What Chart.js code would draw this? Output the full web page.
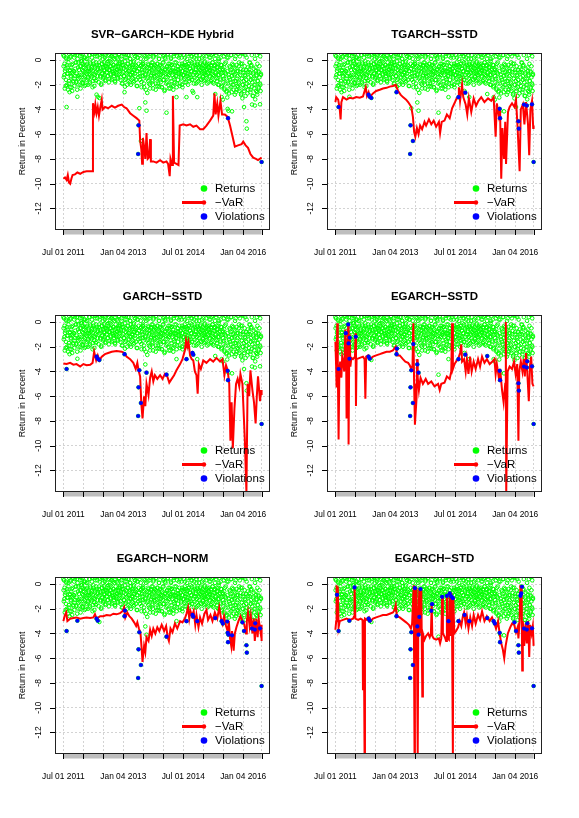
<!DOCTYPE html>
<html>
<head>
<meta charset="utf-8">
<script src="https://cdn.jsdelivr.net/npm/chart.js"></script>
<style>
  html, body { margin: 0; padding: 0; background: #fff; }
  #wrap { position: relative; width: 579px; height: 818px; }
  #wrap canvas { position: absolute; left: 0; top: 0; }
</style>
</head>
<body>
<div id="wrap"></div>
<script>
// daily returns (%), one value every 0.01 year from Jul 2011
const T0 = 2011.5;
const STEP = 0.01;
const returns = [
  .4,-1.4,.9,-.3,-.87,1.2,-2.1,.2,-3.8,-1.1,
  -.6,1.5,-2.4,.1,-1.7,.7,-.9,-2.2,.3,-1.3,
  1.1,-.4,-2.5,-1.0,.5,-1.8,-.9,.2,-1.5,.8,
  -.7,1.3,-.19,-1.73,.4,-2.97,-1.27,-.2,-2.0,.6,
  -1.2,-.5,1.0,-2.3,-.1,-1.6,.3,-.8,-.27,-1.9,
  .7,-1.19,-.6,-2.1,.2,-1.0,1.4,-.4,-1.6,-.9,
  .1,-1.4,-2.0,.8,-.7,-1.1,.4,-1.8,-.3,1.2,
  -1.3,-.6,.5,-2.2,-.9,-.1,.9,-1.5,-.5,-1.2,
  .3,-1.7,-.2,-2.8,1.1,-.8,-2.97,.6,-1.0,-.4,
  -3.07,.2,-1.3,-.7,1.0,-1.9,-.3,.5,-1.1,-.6,
  .8,-1.4,-.2,-.9,.4,-1.6,1.3,-.5,-1.0,.1,
  -.7,-1.3,.6,-.3,-1.8,.9,-.8,-.1,-1.2,.3,
  -.5,1.1,-1.5,-.9,.2,-.4,-1.1,.7,-.6,-1.7,
  .4,-.2,-1.0,1.4,-.8,-1.4,.1,-.5,-1.2,.5,
  -.9,-.3,1.0,-1.6,-.7,.3,-1.1,-.2,-1.9,.8,
  -.4,-1.3,.6,-2.6,-2.15,.2,-.8,-1.5,1.2,-.6,
  -1.0,.4,-.3,-1.7,.9,-.9,-1.2,.1,-.5,-2.0,
  .7,-1.4,-.6,1.3,-1.0,-.2,-1.8,.5,-.8,-1.1,
  .3,-.4,-1.6,1.0,-.9,-2.1,.2,-7.6,-5.28,-.7,
  -3.9,.6,-1.3,-.5,-6.55,-1.78,1.1,-1.0,-.3,-.33,
  -1.5,.4,-2.2,-.8,1.2,-3.43,-1.1,.1,-4.1,-.6,
  -2.66,.8,-1.4,-.41,-1.9,.3,-.9,-2.3,1.0,-.5,
  -1.2,-.2,.6,-1.7,-2.0,.2,-.7,-1.3,1.4,-.4,
  -1.0,-2.4,.5,-.6,-1.5,.9,-.3,-1.9,-1.1,.1,
  -2.17,-.8,-1.63,.7,-1.2,-.5,-2.2,1.1,-.9,-.2,
  -1.6,.4,-1.0,-2.5,.2,-.7,-1.4,1.3,-4.26,-.6,
  -1.8,.5,-1.1,-.3,-2.3,.9,-.8,-1.03,-1.5,.1,
  -.4,-2.0,1.0,-1.2,-.6,-2.4,.3,-.9,-1.6,-.95,
  .6,-1.3,-.2,-3.0,-1.9,1.2,-.76,-.5,-1.1,.2,
  -1.0,-2.1,.4,-.7,-1.14,-1.5,1.1,-.3,-2.2,-.9,
  .7,-1.2,-.4,-1.8,.2,-.8,-1.4,1.0,-3.0,-.6,
  -1.1,.5,-2.0,-.3,-1.5,.9,-.7,-1.2,-.1,1.3,
  -.9,-1.6,.3,-2.5,-.5,-2.64,1.1,-1.0,-.2,-1.4,
  .6,-.8,-1.9,.1,-1.2,-3.0,-.4,1.2,-1.7,-.6,
  -1.0,.4,-.3,-1.5,1.0,-.9,-2.0,.2,-.7,-1.3,
  .8,-.5,-1.1,-.2,1.4,-1.6,-.8,.3,-1.2,-.4,
  -1.9,.6,-.6,-1.0,1.1,-.3,-1.4,-.9,.2,-1.7,
  -.5,1.3,-1.1,-.2,-1.8,.5,-.7,-1.3,.9,-.4,
  -2.75,-1.0,.4,-1.5,-.6,1.2,-.9,-2.0,-.3,.1,
  -1.2,-.7,1.0,-1.6,-.4,-2.2,-3.0,.6,-1.0,-3.2,
  -.8,1.3,-1.5,-2.4,-.3,.5,-1.9,-1.1,-2.6,.2,
  -3.03,-3.95,-4.7,-4.1,1.1,-1.4,-2.3,-.6,-1.8,.4,
  -1.0,-2.6,-4.15,.8,-1.5,-.4,-2.0,1.4,-1.2,-2.8,
  -.7,.3,-1.7,-2.4,-.9,1.0,-1.3,-2.2,.5,-.5,
  -1.9,-2.5,1.2,-1.0,-.3,-2.7,-1.5,.6,-3.1,-2.0,
  -.8,1.1,-3.8,-2.3,-1.2,.4,-2.9,-1.6,-4.95,-5.55,
  .9,-1.0,-2.4,-.95,-1.8,-.76,1.3,-.22,-2.6,-1.3,
  -.5,-2.2,-3.6,.7,-1.5,-2.9,-1.0,1.0,-2.0,-3.68,
  -3.18,-.6,-2.5,-1.2,.4,-2.8,-1.7,1.2,-.9,-2.3,
  -1.4,.6,-3.58,-2.0,-1.1,1.0,-8.25
];
// the trading days in between, offset by half a step
const returnsMid = [
  -.5,.3,-1.2,-2.3,.8,-.7,-1.6,.1,-2.0,-.4,
  1.0,-1.1,-.2,-1.9,.5,-2.6,-.8,.2,-1.4,-.6,
  -2.2,.7,-1.0,-.3,-1.7,1.2,-.9,-2.1,.4,-1.3,
  -.2,-1.8,.6,-1.1,-2.4,.1,-.6,-1.5,.9,-.8,
  -1.4,.3,-2.0,-.5,1.1,-1.2,-.1,-1.8,.5,-.9,
  -1.6,.2,-.4,-1.3,.8,-2.0,-.7,.1,-1.1,-.3,
  1.3,-1.5,-.6,-.9,.4,-1.9,-.2,-1.2,.7,-.8,
  -1.4,.2,-.5,-1.7,1.0,-.3,-1.1,-2.1,.5,-.6,
  -1.0,.9,-1.6,-.4,.3,-1.3,-.7,1.2,-1.8,-.2,
  -.9,.4,-1.4,-.6,-2.0,.6,-.3,-1.1,.1,-1.5,
  .5,-.8,-1.2,.2,-.5,-1.7,.9,-.3,-1.0,-.6,
  1.1,-1.3,-.1,-.8,.4,-1.5,-.5,.7,-1.1,-.2,
  -1.6,.3,-.7,-1.0,1.2,-.4,-1.3,.1,-.9,-1.8,
  .6,-.5,-1.2,.2,-.8,1.0,-1.5,-.3,-.7,.4,
  -1.1,-.2,.8,-1.4,-.6,.1,-1.9,-.4,1.3,-1.0,
  -.7,.5,-1.3,-.1,-1.6,.9,-.5,-1.1,.2,-2.0,
  -.3,1.1,-.9,-1.4,.4,-.6,-1.8,.1,-.2,-1.2,
  .7,-1.0,-.4,-1.5,1.0,-.8,-.1,-1.7,.3,-.6,
  -1.3,.6,-.5,-2.1,.2,-.9,1.2,-1.4,-.3,-.7,
  .4,-1.6,-1.1,.1,-.4,-2.2,.8,-.8,-1.3,-.2,
  1.0,-1.9,-.6,.3,-1.2,-.5,-2.4,.6,-.9,-1.5,
  .2,-.3,-1.7,1.1,-1.0,-.7,-2.0,.5,-1.3,-.4,
  -.8,.9,-1.6,-.2,-2.3,.3,-1.1,-.6,1.2,-1.4,
  -.5,-1.9,.4,-1.0,-.3,-2.1,.8,-.7,-1.5,.1,
  -1.2,-.4,.6,-1.8,-.9,1.0,-2.2,-.6,-1.3,.3,
  -.2,-1.6,.7,-2.4,-.8,.1,-1.1,-1.9,1.1,-.5,
  -1.4,.4,-2.0,-.7,-1.2,.9,-.3,-2.3,-.9,.2,
  -1.7,-.4,1.2,-1.0,-2.1,-.6,.5,-1.4,-.2,-1.8,
  .8,-.9,-1.3,-2.2,.3,-.5,-1.6,1.0,-.8,-1.1,
  -.3,-1.9,.6,-.7,-1.4,.2,-2.0,-.5,1.1,-1.2,
  -.6,.4,-1.5,-.2,-1.0,.9,-1.8,-.4,-.8,.1,
  -1.3,-.5,1.2,-1.1,-.3,-1.7,.5,-.7,-1.4,.3,
  -.9,-.2,-1.6,.8,-.6,-1.2,-1.9,.2,-.4,1.0,
  -1.0,-.7,.4,-1.5,-.3,-1.8,.6,-1.1,-.5,.1,
  -1.3,.9,-.8,-.2,-1.6,-.6,1.1,-1.0,-.4,-1.4,
  .3,-.9,-1.7,-.1,.7,-1.2,-.5,-1.5,1.2,-.7,
  -.3,-1.1,.5,-1.8,-.6,.2,-1.3,-.8,1.0,-.4,
  -1.6,.4,-.9,-.2,-1.2,.8,-1.9,-.5,-.7,.1,
  -1.4,.6,-1.0,-.3,-1.7,1.1,-.6,-1.2,-.1,-2.0,
  .5,-.8,-1.5,.2,-1.1,-.4,-2.1,.9,-.7,-1.3,
  -1.8,.3,-.6,-2.3,-1.0,1.0,-.2,-1.5,-2.5,.6,
  -.9,-1.9,.2,-1.2,-2.7,-.5,1.3,-1.6,-.8,-2.2,
  .4,-1.3,-.3,-2.0,-1.0,.8,-2.4,-.6,-1.7,.1,
  -1.1,-2.6,.6,-.4,-1.5,-2.1,1.1,-.9,-1.8,-.2,
  -2.3,.3,-1.2,-.7,-2.8,.9,-1.5,-.3,-2.0,-1.0,
  .5,-1.7,-2.5,-.5,1.2,-1.3,-2.2,-.8,.2,-1.9,
  -2.7,-.6,.7,-1.4,-2.1,-.2,-1.0,1.0,-2.4,-1.6,
  -.4,.4,-1.8,-2.9,-1.1,.8,-.7,-2.3,-1.5,.1,
  -2.0,-.9,1.1,-1.3,-2.6,-.3,-1.7,.6,-2.2,-1.0,
  -.5,-1.9,.3,-2.5,-1.2,.9
];

const xTicks = [2011.5, 2012.0, 2012.5, 2013.0, 2013.5, 2014.0, 2014.5, 2015.0, 2015.5, 2016.0, 2016.46];
const xTickLabels = ['Jul 01 2011', '', '', 'Jan 04 2013', '', '', 'Jul 01 2014', '', '', 'Jan 04 2016', ''];
const yTicks = [0, -2, -4, -6, -8, -10, -12];

const titles = ['SVR−GARCH−KDE Hybrid', 'TGARCH−SSTD', 'GARCH−SSTD', 'EGARCH−SSTD', 'EGARCH−NORM', 'EGARCH−STD'];

// -VaR series, [date, value]
const varSVR = [[2011.50,-9.6],[2011.54,-9.5],[2011.58,-9.7],[2011.61,-9.3],[2011.64,-9.9],[2011.67,-10.0],[2011.70,-9.6],[2011.73,-9.3],[2011.79,-9.25],[2011.85,-9.1],[2011.92,-9.2],[2012.00,-9.05],[2012.08,-9.0],[2012.17,-9.0],[2012.23,-9.0],[2012.24,-3.5],[2012.28,-4.2],[2012.30,-3.6],[2012.33,-4.3],[2012.36,-3.8],[2012.39,-4.5],[2012.42,-3.9],[2012.46,-3.2],[2012.48,-4.0],[2012.54,-3.8],[2012.62,-3.9],[2012.71,-3.7],[2012.79,-3.85],[2012.87,-3.7],[2012.96,-3.6],[2013.02,-3.8],[2013.08,-3.9],[2013.17,-4.3],[2013.25,-4.5],[2013.33,-4.7],[2013.40,-4.9],[2013.42,-6.5],[2013.45,-7.2],[2013.47,-8.4],[2013.49,-6.3],[2013.52,-7.0],[2013.55,-8.0],[2013.58,-5.9],[2013.61,-8.0],[2013.64,-7.9],[2013.67,-6.4],[2013.69,-8.2],[2013.75,-8.2],[2013.83,-8.3],[2013.92,-8.1],[2014.00,-8.3],[2014.08,-8.2],[2014.12,-8.4],[2014.16,-9.4],[2014.18,-8.0],[2014.22,-8.5],[2014.24,-2.9],[2014.27,-8.3],[2014.33,-8.4],[2014.38,-8.5],[2014.41,-5.3],[2014.50,-5.2],[2014.58,-5.3],[2014.67,-5.2],[2014.75,-5.4],[2014.83,-5.3],[2014.92,-5.6],[2015.00,-5.6],[2015.08,-5.3],[2015.17,-4.9],[2015.25,-4.5],[2015.28,-2.7],[2015.31,-4.4],[2015.35,-3.5],[2015.38,-4.5],[2015.43,-3.3],[2015.47,-4.4],[2015.54,-4.4],[2015.61,-4.6],[2015.67,-5.3],[2015.72,-6.0],[2015.79,-7.0],[2015.87,-6.9],[2015.96,-6.8],[2016.00,-6.6],[2016.06,-6.9],[2016.12,-7.1],[2016.18,-7.6],[2016.25,-7.9],[2016.32,-8.0],[2016.37,-8.1],[2016.46,-7.9]];

const varTGS = [[2011.50,-3.4],[2011.52,-3.0],[2011.57,-3.2],[2011.61,-4.0],[2011.63,-4.8],[2011.65,-3.4],[2011.69,-3.0],[2011.78,-3.2],[2011.86,-3.05],[2011.94,-3.1],[2012.02,-3.0],[2012.11,-3.05],[2012.19,-2.95],[2012.26,-2.2],[2012.29,-2.9],[2012.33,-2.6],[2012.36,-3.0],[2012.44,-2.7],[2012.52,-2.5],[2012.61,-2.4],[2012.69,-2.3],[2012.78,-2.25],[2012.86,-2.15],[2012.94,-2.1],[2013.01,-2.0],[2013.07,-2.5],[2013.13,-2.8],[2013.19,-3.0],[2013.27,-3.2],[2013.32,-3.4],[2013.36,-3.6],[2013.40,-3.8],[2013.44,-4.6],[2013.47,-5.8],[2013.50,-6.2],[2013.54,-5.5],[2013.58,-6.0],[2013.62,-5.3],[2013.67,-5.6],[2013.73,-5.0],[2013.77,-5.3],[2013.84,-4.8],[2013.90,-5.2],[2013.96,-4.9],[2014.02,-5.4],[2014.09,-5.0],[2014.12,-5.9],[2014.16,-5.0],[2014.23,-4.9],[2014.29,-4.4],[2014.36,-4.7],[2014.42,-3.9],[2014.48,-3.5],[2014.52,-3.2],[2014.57,-3.0],[2014.59,-2.2],[2014.62,-3.3],[2014.67,-2.0],[2014.70,-3.0],[2014.76,-3.6],[2014.80,-4.4],[2014.84,-3.1],[2014.90,-4.2],[2014.96,-3.1],[2015.02,-3.7],[2015.08,-3.3],[2015.15,-3.0],[2015.23,-3.4],[2015.32,-3.1],[2015.40,-3.3],[2015.46,-3.0],[2015.51,-6.2],[2015.54,-3.5],[2015.59,-4.5],[2015.62,-3.9],[2015.65,-9.6],[2015.68,-5.5],[2015.72,-8.0],[2015.75,-5.0],[2015.77,-8.4],[2015.82,-4.2],[2015.86,-3.8],[2015.92,-3.5],[2015.98,-3.8],[2016.02,-3.2],[2016.06,-5.5],[2016.11,-9.0],[2016.14,-4.0],[2016.19,-3.6],[2016.23,-5.2],[2016.27,-3.4],[2016.32,-5.2],[2016.35,-7.7],[2016.38,-4.0],[2016.42,-3.3],[2016.45,-5.5],[2016.46,-5.3]];

const varGS = [[2011.50,-3.35],[2011.58,-3.4],[2011.67,-3.3],[2011.75,-3.45],[2011.83,-3.4],[2011.92,-3.6],[2012.00,-3.4],[2012.08,-3.5],[2012.17,-3.45],[2012.23,-3.3],[2012.27,-2.4],[2012.32,-3.1],[2012.36,-2.7],[2012.40,-3.1],[2012.46,-2.8],[2012.54,-2.6],[2012.62,-2.5],[2012.71,-2.4],[2012.83,-2.35],[2012.96,-2.4],[2013.02,-2.5],[2013.08,-2.8],[2013.17,-3.0],[2013.25,-3.3],[2013.31,-3.8],[2013.35,-3.3],[2013.38,-3.9],[2013.42,-4.4],[2013.45,-6.6],[2013.48,-7.8],[2013.52,-6.0],[2013.55,-6.8],[2013.58,-5.0],[2013.63,-5.9],[2013.67,-4.5],[2013.71,-4.0],[2013.75,-4.8],[2013.79,-4.3],[2013.85,-4.6],[2013.92,-4.3],[2013.98,-4.6],[2014.04,-4.2],[2014.10,-4.4],[2014.15,-4.9],[2014.21,-4.6],[2014.27,-4.3],[2014.33,-3.9],[2014.42,-3.4],[2014.48,-3.0],[2014.54,-2.3],[2014.57,-1.5],[2014.60,-2.0],[2014.63,-1.6],[2014.67,-2.7],[2014.71,-3.0],[2014.75,-3.1],[2014.79,-4.0],[2014.83,-4.3],[2014.86,-5.8],[2014.89,-3.4],[2014.94,-3.8],[2015.00,-3.1],[2015.08,-3.3],[2015.17,-3.0],[2015.25,-3.2],[2015.33,-2.9],[2015.42,-3.2],[2015.48,-3.0],[2015.53,-4.3],[2015.57,-3.5],[2015.61,-3.9],[2015.65,-5.0],[2015.68,-9.6],[2015.71,-6.5],[2015.74,-10.2],[2015.78,-7.0],[2015.82,-5.0],[2015.86,-4.6],[2015.90,-5.2],[2015.93,-4.2],[2015.98,-5.0],[2016.04,-9.5],[2016.08,-13.8],[2016.11,-5.0],[2016.15,-6.0],[2016.18,-3.9],[2016.23,-5.5],[2016.27,-6.5],[2016.31,-8.2],[2016.34,-6.0],[2016.37,-4.4],[2016.42,-6.4],[2016.45,-5.5],[2016.46,-5.9]];

const varESS = [[2011.50,-1.6],[2011.52,-3.8],[2011.53,-5.3],[2011.545,-0.1],[2011.56,-3.5],[2011.58,-9.5],[2011.60,-3.8],[2011.62,-3.2],[2011.65,-4.5],[2011.67,-2.8],[2011.70,-3.3],[2011.72,-4.0],[2011.75,-0.6],[2011.77,-3.0],[2011.78,-7.8],[2011.80,-3.2],[2011.82,-0.1],[2011.83,-9.9],[2011.845,-3.0],[2011.86,-1.0],[2011.875,-3.6],[2011.90,-2.9],[2011.94,-3.0],[2011.99,-2.8],[2012.005,-0.9],[2012.015,-6.8],[2012.03,-3.0],[2012.11,-2.9],[2012.19,-2.8],[2012.23,-3.0],[2012.25,-6.2],[2012.27,-2.8],[2012.32,-2.7],[2012.36,-3.0],[2012.44,-2.8],[2012.52,-2.7],[2012.61,-2.6],[2012.69,-2.5],[2012.78,-2.4],[2012.86,-2.4],[2012.94,-2.3],[2013.01,-2.0],[2013.05,-2.7],[2013.11,-2.7],[2013.19,-3.0],[2013.25,-3.2],[2013.32,-3.3],[2013.36,-3.5],[2013.40,-3.8],[2013.43,-3.5],[2013.45,-0.1],[2013.47,-5.0],[2013.49,-8.3],[2013.53,-6.2],[2013.545,-3.0],[2013.56,-4.5],[2013.59,-5.5],[2013.63,-4.5],[2013.69,-5.0],[2013.76,-4.6],[2013.82,-5.0],[2013.90,-4.8],[2013.98,-5.2],[2014.07,-5.0],[2014.11,-5.5],[2014.15,-5.0],[2014.23,-4.9],[2014.29,-4.4],[2014.36,-4.6],[2014.40,-4.0],[2014.42,-0.1],[2014.44,-3.8],[2014.48,-3.4],[2014.52,-3.2],[2014.57,-3.0],[2014.62,-2.5],[2014.65,-1.8],[2014.67,-3.2],[2014.72,-3.0],[2014.76,-4.0],[2014.79,-3.0],[2014.83,-4.2],[2014.87,-2.8],[2014.91,-4.0],[2014.96,-3.2],[2015.01,-3.8],[2015.07,-3.0],[2015.12,-3.6],[2015.17,-2.8],[2015.23,-3.3],[2015.29,-3.0],[2015.36,-3.4],[2015.43,-3.2],[2015.48,-3.0],[2015.51,-4.2],[2015.54,-3.4],[2015.59,-4.5],[2015.63,-4.1],[2015.67,-5.5],[2015.71,-6.5],[2015.75,-5.0],[2015.765,0.0],[2015.775,-13.8],[2015.81,-4.0],[2015.86,-3.6],[2015.92,-3.8],[2015.97,-3.2],[2016.01,-4.2],[2016.05,-3.4],[2016.08,-9.6],[2016.10,-4.0],[2016.14,-3.2],[2016.18,-4.0],[2016.21,-3.0],[2016.24,-4.4],[2016.27,-2.5],[2016.30,-4.0],[2016.34,-6.4],[2016.37,-3.5],[2016.40,-2.8],[2016.43,-5.0],[2016.46,-5.2]];

const varEN = [[2011.50,-3.0],[2011.53,-2.6],[2011.57,-2.3],[2011.60,-3.0],[2011.67,-2.8],[2011.75,-2.75],[2011.83,-2.7],[2011.92,-2.8],[2012.00,-2.75],[2012.08,-2.7],[2012.17,-2.75],[2012.25,-2.7],[2012.29,-2.45],[2012.33,-2.8],[2012.42,-2.6],[2012.50,-2.6],[2012.58,-2.5],[2012.67,-2.55],[2012.75,-2.4],[2012.83,-2.45],[2012.92,-2.35],[2012.98,-2.2],[2013.02,-1.9],[2013.05,-2.7],[2013.10,-2.3],[2013.15,-2.6],[2013.21,-2.8],[2013.27,-3.1],[2013.32,-3.4],[2013.35,-3.1],[2013.39,-3.6],[2013.43,-4.0],[2013.46,-5.3],[2013.48,-6.3],[2013.52,-5.0],[2013.55,-5.5],[2013.58,-4.3],[2013.63,-4.6],[2013.67,-3.7],[2013.71,-4.2],[2013.75,-3.6],[2013.80,-4.0],[2013.85,-3.5],[2013.90,-3.8],[2013.96,-3.3],[2014.02,-3.8],[2014.07,-3.4],[2014.11,-4.3],[2014.14,-4.6],[2014.18,-3.6],[2014.23,-3.9],[2014.29,-3.2],[2014.35,-3.6],[2014.42,-3.0],[2014.48,-3.1],[2014.54,-2.8],[2014.58,-2.4],[2014.62,-1.9],[2014.65,-2.8],[2014.68,-2.2],[2014.72,-2.6],[2014.76,-2.2],[2014.80,-3.3],[2014.83,-2.5],[2014.88,-3.5],[2014.92,-2.7],[2014.97,-3.2],[2015.03,-2.4],[2015.08,-2.1],[2015.12,-2.9],[2015.18,-2.5],[2015.23,-3.0],[2015.29,-2.3],[2015.35,-2.8],[2015.40,-1.9],[2015.44,-2.7],[2015.48,-3.2],[2015.52,-2.6],[2015.57,-3.4],[2015.61,-3.8],[2015.64,-3.0],[2015.67,-4.4],[2015.70,-5.0],[2015.72,-3.8],[2015.76,-5.4],[2015.79,-4.0],[2015.83,-3.5],[2015.88,-3.0],[2015.93,-2.6],[2015.98,-3.0],[2016.03,-3.3],[2016.07,-4.0],[2016.09,-3.0],[2016.12,-2.3],[2016.16,-3.4],[2016.19,-2.6],[2016.23,-4.0],[2016.26,-2.8],[2016.29,-4.6],[2016.33,-2.8],[2016.36,-4.3],[2016.39,-2.9],[2016.43,-3.8],[2016.45,-3.3],[2016.46,-4.6]];

const varEST = [[2011.50,-3.7],[2011.52,-3.0],[2011.53,-0.1],[2011.545,-3.0],[2011.56,-0.2],[2011.58,-3.5],[2011.61,-3.0],[2011.69,-2.9],[2011.78,-2.8],[2011.86,-2.9],[2011.94,-2.8],[2011.97,-2.6],[2011.98,-0.2],[2012.00,-2.8],[2012.07,-2.9],[2012.13,-2.8],[2012.18,-2.9],[2012.19,-8.6],[2012.21,-3.0],[2012.23,-13.8],[2012.24,-2.8],[2012.29,-2.9],[2012.34,-2.7],[2012.38,-3.0],[2012.44,-2.8],[2012.52,-2.7],[2012.61,-2.6],[2012.69,-2.5],[2012.78,-2.5],[2012.86,-2.4],[2012.94,-2.3],[2012.98,-2.1],[2013.01,-1.7],[2013.04,-2.6],[2013.11,-2.7],[2013.19,-2.9],[2013.27,-3.1],[2013.34,-3.3],[2013.39,-3.6],[2013.42,-3.2],[2013.46,-0.1],[2013.48,-13.8],[2013.49,-0.2],[2013.52,-6.0],[2013.53,-0.3],[2013.56,-13.8],[2013.575,-3.0],[2013.60,-0.4],[2013.62,-4.0],[2013.65,-0.5],[2013.675,-9.1],[2013.69,-4.0],[2013.73,-4.5],[2013.77,-4.2],[2013.82,-4.0],[2013.86,-4.3],[2013.89,-4.0],[2013.91,-1.6],[2013.925,-4.2],[2013.96,-4.4],[2014.02,-4.5],[2014.09,-4.4],[2014.12,-4.8],[2014.15,-4.4],[2014.17,-1.0],[2014.19,-4.0],[2014.24,-4.3],[2014.27,-4.6],[2014.29,-0.9],[2014.31,-4.4],[2014.34,-4.5],[2014.36,-0.6],[2014.38,-4.2],[2014.40,-0.7],[2014.42,-4.1],[2014.44,-13.8],[2014.45,-1.0],[2014.475,-4.0],[2014.52,-3.8],[2014.57,-3.5],[2014.61,-3.0],[2014.65,-3.4],[2014.69,-2.6],[2014.72,-2.3],[2014.76,-3.2],[2014.79,-2.6],[2014.83,-3.6],[2014.875,-2.7],[2014.92,-3.4],[2014.96,-2.5],[2015.01,-3.2],[2015.07,-2.5],[2015.12,-2.9],[2015.17,-2.2],[2015.23,-3.0],[2015.29,-2.6],[2015.36,-3.0],[2015.42,-2.7],[2015.48,-3.2],[2015.52,-3.6],[2015.57,-3.0],[2015.61,-4.0],[2015.65,-4.8],[2015.69,-5.3],[2015.725,-6.0],[2015.76,-5.0],[2015.815,-4.0],[2015.875,-3.5],[2015.92,-3.2],[2015.975,-3.3],[2016.02,-3.9],[2016.06,-3.5],[2016.08,-4.4],[2016.11,-3.0],[2016.13,-0.1],[2016.14,-2.5],[2016.16,-0.2],[2016.175,-7.0],[2016.19,-3.0],[2016.225,-5.0],[2016.26,-3.2],[2016.29,-4.8],[2016.325,-3.0],[2016.35,-5.9],[2016.375,-3.3],[2016.41,-4.0],[2016.44,-3.4],[2016.46,-5.0]];

// violation days, as positions in the returns array
const violSVR = [187, 188, 412, 496];
const violTGS = [8, 83, 86, 90, 153, 187, 188, 194, 308, 325, 411, 412, 458, 459, 472, 479, 492, 496];
const violGS = [8, 83, 86, 90, 153, 187, 188, 190, 194, 208, 258, 308, 323, 325, 411, 412, 496];
const violESS = [8, 26, 32, 33, 35, 36, 51, 83, 86, 153, 154, 187, 188, 190, 194, 195, 205, 208, 308, 325, 380, 411, 412, 458, 459, 472, 479, 480, 492, 496];
const violEN = [8, 35, 83, 86, 153, 154, 187, 188, 190, 194, 258, 308, 323, 325, 335, 380, 396, 399, 410, 411, 412, 413, 422, 448, 452, 458, 459, 472, 479, 480, 492, 496];
const violEST = [4, 8, 35, 48, 83, 86, 153, 187, 188, 190, 194, 199, 205, 208, 210, 213, 240, 242, 267, 279, 283, 286, 290, 294, 308, 323, 335, 380, 396, 399, 411, 412, 448, 452, 458, 459, 463, 465, 467, 472, 479, 480, 492, 496];

const varSeries = [varSVR, varTGS, varGS, varESS, varEN, varEST];
const violSeries = [violSVR, violTGS, violGS, violESS, violEN, violEST];

// page layout of the plot boxes
const W = 579, H = 818;
const colLeft = [55, 327];
const rowTop = [53, 315, 577];
const boxW = 215, boxH = 177;

const FONT = "'Liberation Sans', Arial, Helvetica, sans-serif";

const frame = {
  id: 'frame',
  afterDatasetsDraw(chart, args, opts) {
    const {ctx, chartArea: a, scales: {x, y}} = chart;
    ctx.save();
    // grey band under the time axis
    const bx0 = x.getPixelForValue(xTicks[0]);
    const bx1 = x.getPixelForValue(xTicks[xTicks.length - 1]);
    ctx.fillStyle = '#bebebe';
    ctx.fillRect(bx0, a.bottom, bx1 - bx0, 4.5);
    ctx.strokeStyle = '#000';
    ctx.lineWidth = 1;
    ctx.beginPath();
    xTicks.forEach(v => {
      const px = Math.round(x.getPixelForValue(v)) + 0.5;
      ctx.moveTo(px, a.bottom);
      ctx.lineTo(px, a.bottom + 5);
    });
    yTicks.forEach(v => {
      const py = Math.round(y.getPixelForValue(v)) + 0.5;
      ctx.moveTo(a.left - 5, py);
      ctx.lineTo(a.left, py);
    });
    ctx.stroke();
    ctx.strokeStyle = '#222';
    ctx.strokeRect(a.left + 0.5, a.top + 0.5, a.right - a.left - 1, a.bottom - a.top - 1);

    // tick labels
    ctx.fillStyle = '#000';
    ctx.font = '8.4px ' + FONT;
    ctx.textAlign = 'center';
    ctx.textBaseline = 'middle';
    xTicks.forEach((v, i) => {
      if (xTickLabels[i]) ctx.fillText(xTickLabels[i], x.getPixelForValue(v), a.bottom + 22.5);
    });
    yTicks.forEach(v => {
      ctx.save();
      ctx.translate(a.left - 16, y.getPixelForValue(v));
      ctx.rotate(-Math.PI / 2);
      ctx.fillText(String(v), 0, 0);
      ctx.restore();
    });
    ctx.save();
    ctx.font = '8.7px ' + FONT;
    ctx.translate(a.left - 32, (a.top + a.bottom) / 2);
    ctx.rotate(-Math.PI / 2);
    ctx.fillText('Return in Percent', 0, 0);
    ctx.restore();

    // title
    ctx.font = 'bold 11.5px ' + FONT;
    ctx.fillText(opts.title, (a.left + a.right) / 2, a.top - 18);

    // legend
    const lx = a.right - 66, tx = a.right - 55;
    const rows = [a.bottom - 41.5, a.bottom - 27.5, a.bottom - 13.5];
    ctx.fillStyle = '#00ff00';
    ctx.beginPath(); ctx.arc(lx, rows[0], 3.3, 0, Math.PI * 2); ctx.fill();
    ctx.strokeStyle = '#ff0000';
    ctx.lineWidth = 3;
    ctx.beginPath(); ctx.moveTo(a.right - 88, rows[1]); ctx.lineTo(lx, rows[1]); ctx.stroke();
    ctx.fillStyle = '#ff0000';
    ctx.beginPath(); ctx.arc(lx, rows[1], 2.2, 0, Math.PI * 2); ctx.fill();
    ctx.fillStyle = '#0000ff';
    ctx.beginPath(); ctx.arc(lx, rows[2], 3.3, 0, Math.PI * 2); ctx.fill();
    ctx.fillStyle = '#000';
    ctx.font = '11.5px ' + FONT;
    ctx.textAlign = 'left';
    ['Returns', '−VaR', 'Violations'].forEach((t, i) => ctx.fillText(t, tx, rows[i] + 0.5));
    ctx.restore();
  }
};

const wrap = document.getElementById('wrap');
const returnPoints = returns.map((r, i) => ({x: T0 + i * STEP, y: r}))
  .concat(returnsMid.map((r, i) => ({x: T0 + (i + 0.5) * STEP, y: r})));

titles.forEach((title, k) => {
  const col = k % 2, row = Math.floor(k / 2);
  const left = colLeft[col], top = rowTop[row];
  const canvas = document.createElement('canvas');
  canvas.width = W;
  canvas.height = H;
  wrap.appendChild(canvas);

  new Chart(canvas, {
    type: 'scatter',
    data: {
      datasets: [
        {
          data: returnPoints,
          pointRadius: 1.8,
          borderWidth: 1,
          borderColor: '#00ff00',
          backgroundColor: 'rgba(0,0,0,0)',
          order: 3,
          clip: 0
        },
        {
          data: varSeries[k].map(([t, v]) => ({x: t, y: v})),
          showLine: true,
          pointRadius: 0,
          borderColor: '#ff0000',
          borderWidth: 2,
          order: 2,
          clip: 0
        },
        {
          data: violSeries[k].map(i => ({x: T0 + i * STEP, y: returns[i]})),
          pointRadius: 2.1,
          borderWidth: 0,
          backgroundColor: '#0000ff',
          order: 1,
          clip: 0
        }
      ]
    },
    options: {
      responsive: false,
      animation: false,
      devicePixelRatio: 1,
      events: [],
      layout: {padding: {left: left, top: top, right: W - left - boxW, bottom: H - top - boxH}},
      plugins: {legend: {display: false}, tooltip: {enabled: false}, frame: {title: title}},
      scales: {
        x: {
          type: 'linear',
          min: 2011.29,
          max: 2016.67,
          bounds: 'data',
          ticks: {display: false},
          grid: {color: '#d3d3d3', lineWidth: 1, drawTicks: false},
          border: {display: false, dash: [2, 2]},
          afterBuildTicks: s => { s.ticks = xTicks.map(v => ({value: v})); },
          afterFit: s => { s.height = 0; }
        },
        y: {
          min: -13.75,
          max: 0.57,
          bounds: 'data',
          ticks: {display: false},
          grid: {color: '#d3d3d3', lineWidth: 1, drawTicks: false},
          border: {display: false, dash: [2, 2]},
          afterBuildTicks: s => { s.ticks = yTicks.map(v => ({value: v})); },
          afterFit: s => { s.width = 0; }
        }
      }
    },
    plugins: [frame]
  });
});
</script>
</body>
</html>
